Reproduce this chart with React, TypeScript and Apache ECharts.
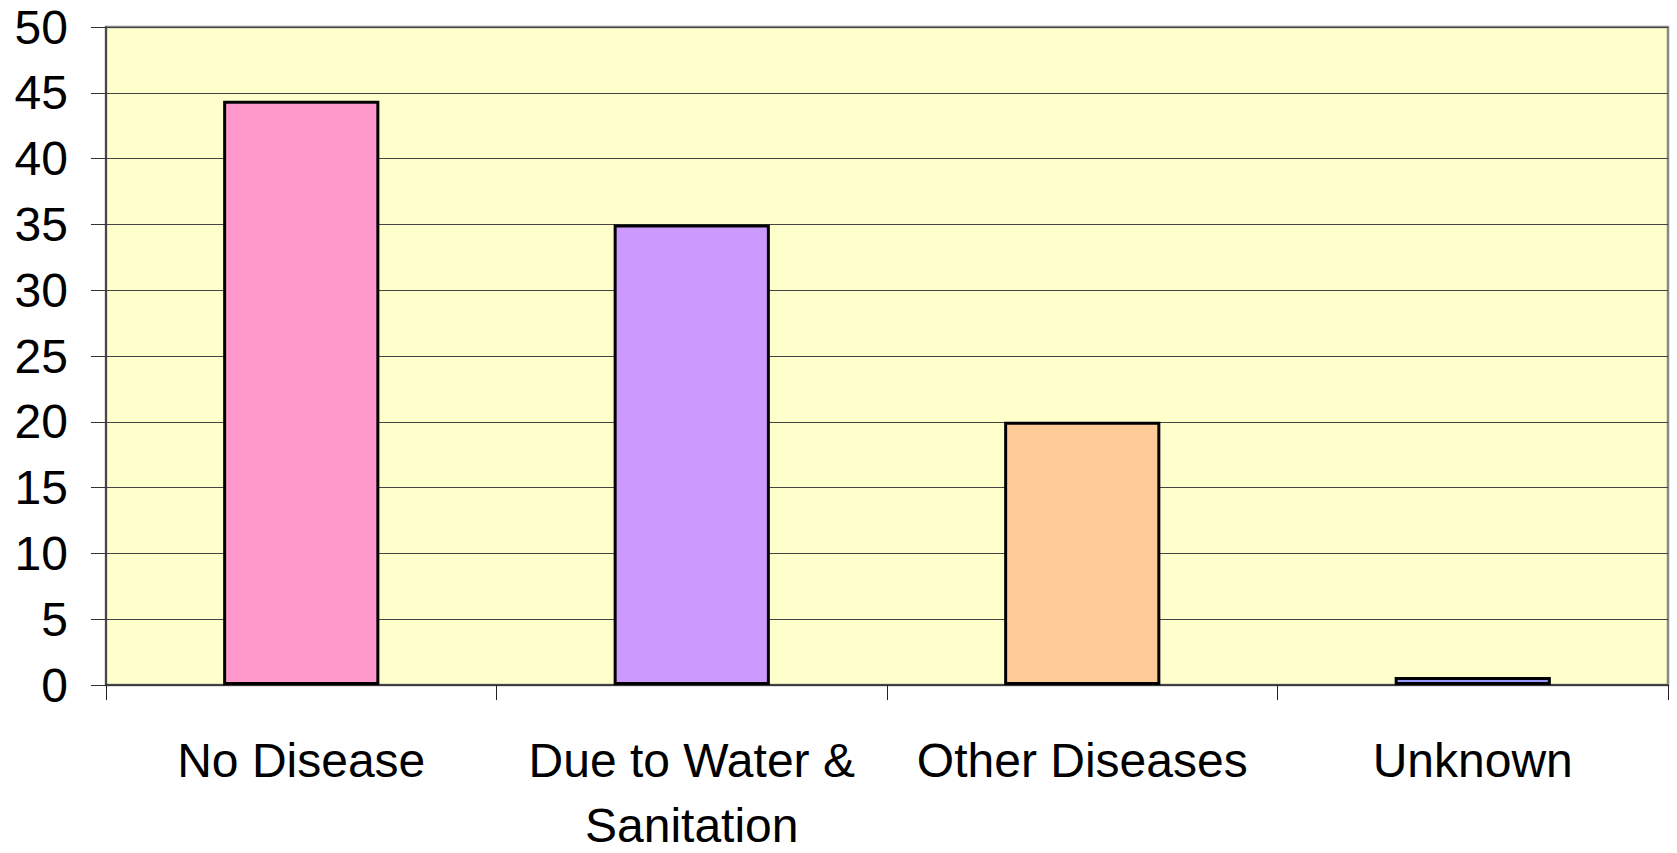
import React, { useEffect, useRef } from "react";
import * as echarts from "echarts";

const categories = ["No Disease", "Due to Water &\nSanitation", "Other Diseases", "Unknown"];
const values = [44.4, 35, 20, 0.6];
const barColors = ["#FF99CC", "#CC99FF", "#FFCC99", "#9999FF"];
const yMin = 0;
const yMax = 50;
const yInterval = 5;

export default function App() {
  const ref = useRef<HTMLDivElement>(null);
  useEffect(() => {
    document.body.style.margin = "0";
    const chart = echarts.init(ref.current!, null, { renderer: "svg" });
    const font = "'Liberation Sans', Arial, sans-serif";
    const labelBase = { color: "#000", fontFamily: font, fontSize: 48 };
    chart.setOption({
      animation: false,
      backgroundColor: "#ffffff",
      grid: {
        left: 106,
        right: 9,
        top: 27,
        bottom: 168,
        outerBoundsMode: "none",
        containLabel: false,
        show: true,
        backgroundColor: "#FFFFCC",
        borderColor: "#888888",
        borderWidth: 2.5,
      },
      xAxis: {
        type: "category",
        data: categories,
        axisLine: { show: true, lineStyle: { color: "#333", width: 1.5 } },
        axisTick: { show: true, length: 15, lineStyle: { color: "#222", width: 1 } },
        axisLabel: {
          ...labelBase,
          margin: 30,
          interval: 0,
          formatter: (v: string) =>
            v
              .split("\n")
              .map((s, i) => `{${i === 0 ? "a" : "b"}|${s}}`)
              .join("\n"),
          rich: {
            a: { ...labelBase, lineHeight: 90 },
            b: { ...labelBase, lineHeight: 40 },
          },
        },
      },
      yAxis: {
        type: "value",
        min: yMin,
        max: yMax,
        interval: yInterval,
        axisLine: { show: true, lineStyle: { color: "#333", width: 1.5 } },
        axisTick: { show: true, length: 15, lineStyle: { color: "#333", width: 1 } },
        axisLabel: {
          color: "#000",
          fontFamily: font,
          fontSize: 48,
          margin: 38,
        },
        splitLine: { show: true, lineStyle: { color: "#444", width: 1 } },
      },
      series: [
        {
          type: "bar",
          barWidth: "40%",
          data: values.map((v, i) => ({
            value: v,
            itemStyle: { color: barColors[i], borderColor: "#000", borderWidth: 3 },
          })),
        },
      ],
    });
    return () => chart.dispose();
  }, []);
  return <div ref={ref} style={{ width: 1677, height: 853 }} />;
}
